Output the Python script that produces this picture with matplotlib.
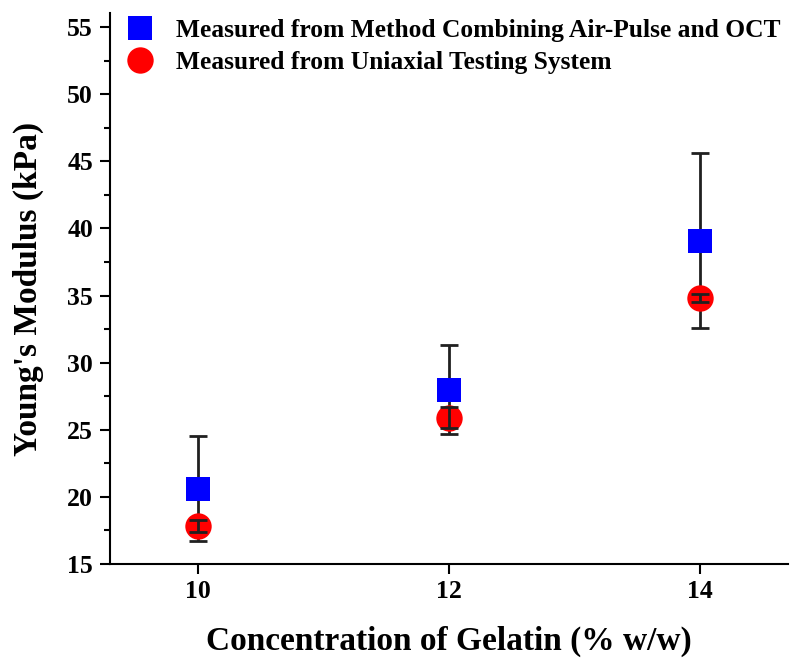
import matplotlib
matplotlib.use("Agg")
import matplotlib.pyplot as plt
from matplotlib.lines import Line2D
from matplotlib.ticker import MultipleLocator

concentration = [10, 12, 14]
oct_modulus = [20.6, 28.0, 39.1]
oct_err = [3.9, 3.3, 6.5]
uniaxial_modulus = [17.8, 25.9, 34.8]
uniaxial_err = [0.45, 0.8, 0.3]
labels = ["Measured from Method Combining Air-Pulse and OCT",
          "Measured from Uniaxial Testing System"]

plt.rcParams['font.family'] = ['Liberation Serif', 'DejaVu Serif']
plt.rcParams['font.weight'] = 'bold'

fig = plt.figure(figsize=(8, 6.72), dpi=100)
ax = fig.add_axes([110/800, 1 - 564/672, 678/800, 551/672])

ax.errorbar(concentration, oct_modulus, yerr=oct_err, fmt='none', ecolor='#202020',
            elinewidth=2, capsize=6.5, capthick=2, zorder=2)
ax.plot(concentration, oct_modulus, 's', color='#0000ff', markersize=17, zorder=3,
        markeredgewidth=0)
ax.plot(concentration, uniaxial_modulus, 'o', color='#ff0000', markersize=19, zorder=4,
        markeredgewidth=0)
ax.errorbar(concentration, uniaxial_modulus, yerr=uniaxial_err, fmt='none', ecolor='#202020',
            elinewidth=2, capsize=6.5, capthick=2, zorder=5)

ax.set_xlim(9.30, 14.70)
ax.set_ylim(15, 56.05)
ax.set_xticks(concentration)
ax.yaxis.set_major_locator(MultipleLocator(5))
ax.yaxis.set_minor_locator(MultipleLocator(2.5))
ax.tick_params(axis='both', which='major', direction='out', length=7.2, width=1.5,
               labelsize=18.5)
ax.tick_params(axis='y', which='minor', direction='out', length=4.5, width=1.5)
ax.tick_params(axis='x', which='major', pad=4)
ax.tick_params(axis='y', which='major', pad=5)
for lab in ax.get_xticklabels() + ax.get_yticklabels():
    lab.set_fontweight('bold')

for s in ['top', 'right']:
    ax.spines[s].set_visible(False)
for s in ['left', 'bottom']:
    ax.spines[s].set_linewidth(1.5)

ax.set_xlabel("Concentration of Gelatin (% w/w)", fontsize=24, fontweight='bold')
ax.set_ylabel("Young's Modulus (kPa)", fontsize=24, fontweight='bold')
ax.xaxis.set_label_coords(0.5, -0.1125)
ax.yaxis.set_label_coords(-0.0973, 0.5)

handles = [Line2D([], [], marker='s', color='#0000ff', linestyle='none', markersize=17,
                  markeredgewidth=0),
           Line2D([], [], marker='o', color='#ff0000', linestyle='none', markersize=19,
                  markeredgewidth=0)]
ax.legend(handles, labels, loc='upper left', bbox_to_anchor=(0.0254, 0.989), frameon=False,
          prop={'size': 18.4, 'weight': 'bold'}, handlelength=1.0, handletextpad=0.9,
          labelspacing=0.36, borderpad=0, borderaxespad=0)

fig.savefig("out.png", dpi=100)
